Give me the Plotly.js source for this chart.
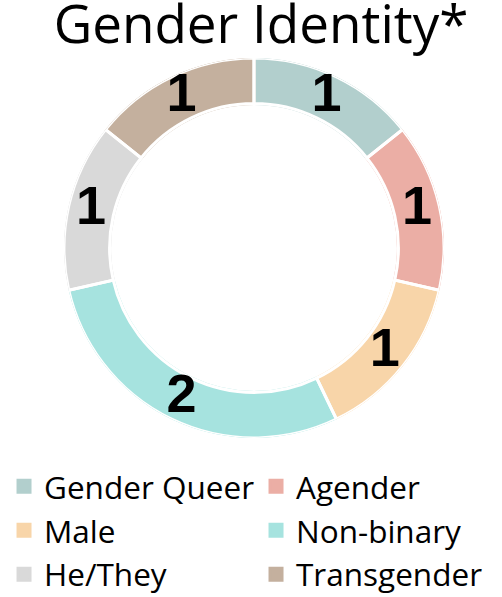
<!DOCTYPE html>
<html>
<head>
<meta charset="utf-8">
<script src="https://cdn.plot.ly/plotly-3.0.1.min.js"></script>
<style>html,body{margin:0;padding:0;background:#fff;}#chart{width:502px;height:597px;}</style>
</head>
<body>
<div id="chart"></div>
<script>
const categories = ["Gender Queer", "Agender", "Male", "Non-binary", "He/They", "Transgender"];
const counts = [1, 1, 1, 2, 1, 1];
const colors = ["#b2cfcd", "#ebaea5", "#f8d5a9", "#a6e3df", "#d9d9d9", "#c4b09e"];

// angular geometry derived from the counts (clockwise from 12 o'clock)
const total = counts.reduce((a, b) => a + b, 0);
const spans = counts.map(v => v / total * 360);
const mids = [];
let acc = 0;
spans.forEach(s => { mids.push(acc + s / 2); acc += s; });

const HOLE = 0.76;

const ringTraces = categories.map((c, i) => ({
  type: "barpolar",
  name: c,
  theta: [mids[i]],
  width: [spans[i]],
  base: [HOLE],
  r: [1 - HOLE],
  marker: {color: colors[i], line: {color: colors[i], width: 3}},
  showlegend: true,
  hoverinfo: "name"
}));

const separatorTrace = {
  type: "barpolar",
  theta: mids,
  width: spans,
  base: counts.map(() => HOLE),
  r: counts.map(() => 1 - HOLE),
  marker: {color: "rgba(0,0,0,0)", line: {color: "#ffffff", width: 3}},
  showlegend: false,
  hoverinfo: "skip"
};

const labelTrace = {
  type: "scatterpolar",
  mode: "text",
  theta: mids,
  r: counts.map(() => (1 + HOLE) / 2),
  text: counts.map(String),
  textposition: "middle center",
  textfont: {family: "Liberation Sans, Arial, sans-serif", size: 54, color: "#000000", weight: "bold"},
  cliponaxis: false,
  showlegend: false,
  hoverinfo: "skip"
};

const layout = {
  width: 502,
  height: 597,
  margin: {l: 6, r: 0, t: 58, b: 159, autoexpand: false},
  paper_bgcolor: "#ffffff",
  title: {
    text: "Gender Identity*",
    font: {family: "Open Sans, sans-serif", size: 53, color: "#000000"},
    x: 0.52, xanchor: "center",
    yref: "container", y: 1, yanchor: "top",
    pad: {t: 6}
  },
  polar: {
    domain: {x: [0, 1], y: [0, 1]},
    bgcolor: "rgba(0,0,0,0)",
    barmode: "overlay",
    bargap: 0,
    radialaxis: {visible: false, range: [0, 1], showgrid: false, showline: false, showticklabels: false, ticks: ""},
    angularaxis: {visible: false, rotation: 90, direction: "clockwise", showgrid: false, showline: false, showticklabels: false, ticks: ""}
  },
  showlegend: true,
  legend: {
    orientation: "h",
    x: -0.004, xanchor: "left",
    y: -0.056, yanchor: "top",
    entrywidth: 207,
    entrywidthmode: "pixels",
    font: {family: "Open Sans, sans-serif", size: 31.5, color: "#000000"},
    traceorder: "normal",
    borderwidth: 0
  }
};

Plotly.newPlot("chart", ringTraces.concat([separatorTrace, labelTrace]), layout, {displayModeBar: false, staticPlot: true});
</script>
</body>
</html>
